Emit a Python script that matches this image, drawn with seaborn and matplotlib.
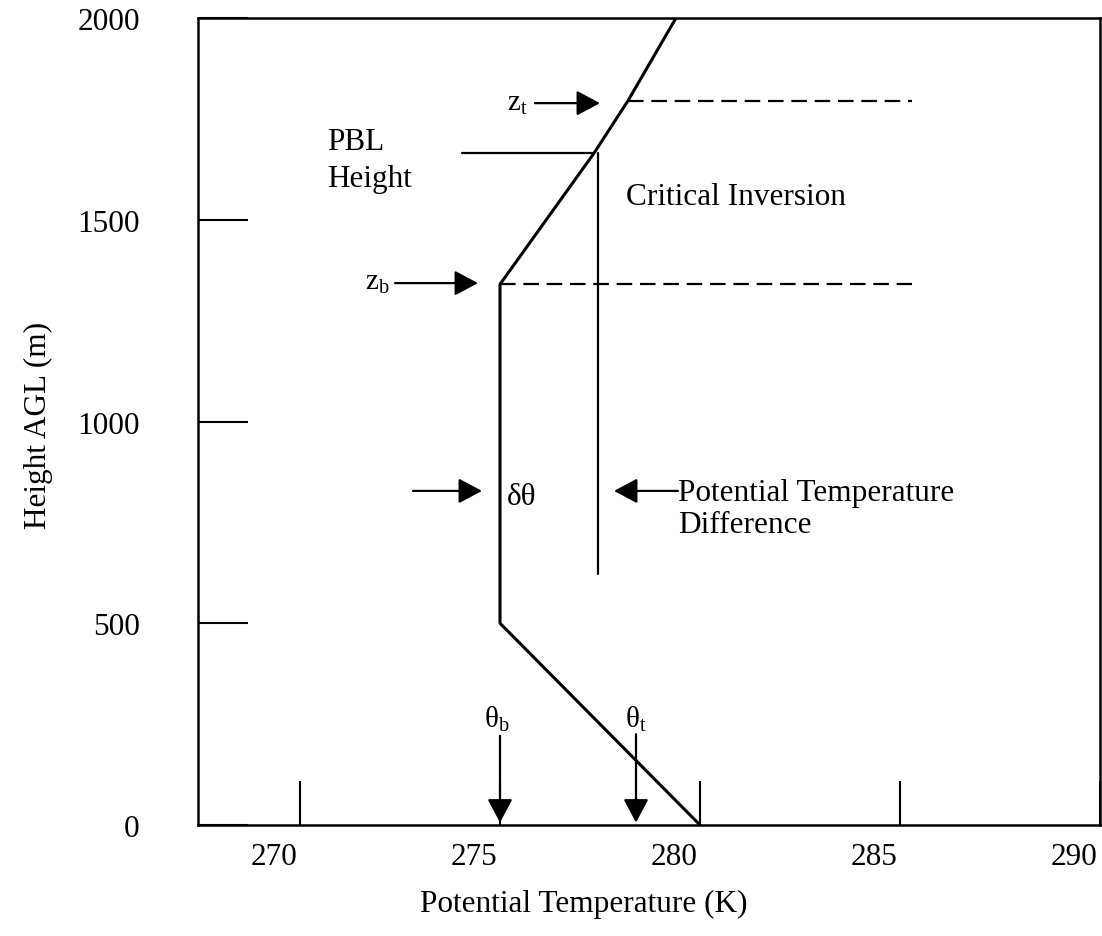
import matplotlib
matplotlib.use("Agg")
import matplotlib.pyplot as plt
import matplotlib.transforms as mtransforms
import numpy as np
import pandas as pd
import seaborn as sns

# Idealised potential-temperature profile of the boundary layer
theta_profile = [280.0, 275.0, 275.0, 277.35, 278.2, 279.4]
height_profile = [0, 500, 1340, 1665, 1795, 2000]

# Key levels and temperatures
z_b = 1340          # base of the critical inversion (m)
z_t = 1795          # top of the critical inversion (m)
pbl_height = 1665   # PBL height (m)
theta_b = 275.0     # potential temperature at inversion base (K)
theta_t = 278.4     # potential temperature at inversion top (K)
dashed_end = 285.3  # right end of the level markers (K)

x_ticks = [270, 275, 280, 285, 290]
y_ticks = [0, 500, 1000, 1500, 2000]

sns.set_theme(style="white")
plt.rcParams["font.family"] = ["Liberation Serif", "DejaVu Serif"]
plt.rcParams["mathtext.fontset"] = "custom"
plt.rcParams["mathtext.rm"] = "Liberation Serif"
plt.rcParams["mathtext.it"] = "Liberation Serif:italic"
plt.rcParams["text.color"] = "black"
plt.rcParams["axes.labelcolor"] = "black"
plt.rcParams["xtick.color"] = "black"
plt.rcParams["ytick.color"] = "black"

FS = 22.5
LW = 1.6

fig = plt.figure(figsize=(11.02, 9.37), dpi=100)
ax = fig.add_axes([198 / 1102, 1 - 826 / 937, 902 / 1102, 807 / 937])

df = pd.DataFrame({"theta": theta_profile, "z": height_profile})
sns.lineplot(data=df, x="theta", y="z", sort=False, estimator=None,
             color="black", linewidth=2.2, ax=ax)

# Inversion base and top markers
ax.plot([theta_profile[2], dashed_end], [z_b, z_b], color="black",
        linewidth=LW, dashes=(7, 3.5))
ax.plot([theta_profile[4], dashed_end], [z_t, z_t], color="black",
        linewidth=LW, dashes=(7, 3.5))

# PBL height marker and the vertical drop line
ax.plot([274.05, theta_profile[3]], [pbl_height, pbl_height],
        color="black", linewidth=LW)
ax.plot([277.45, 277.45], [pbl_height, 622], color="black", linewidth=LW)

ax.set_xlim(267.45, 290)
ax.set_ylim(0, 2000)

arrow_kw = dict(arrowstyle="-|>,head_length=0.6,head_width=0.32",
                mutation_scale=24, color="black", lw=LW,
                shrinkA=0, shrinkB=0)

def arrow(x0, y0, x1, y1):
    ax.annotate("", xy=(x1, y1), xytext=(x0, y0), arrowprops=arrow_kw)

arrow(275.875, 1789, 277.5, 1789)    # z_t
arrow(272.375, 1343, 274.45, 1343)   # z_b
arrow(272.825, 828, 274.55, 828)     # delta theta
arrow(279.45, 828, 277.85, 828)      # difference
arrow(theta_b, 221, theta_b, 6)      # theta_b
arrow(theta_t, 225, theta_t, 6)      # theta_t

ax.text(275.43, 1772, "z$_{\\mathrm{t}}$", fontsize=21, ha="center",
        va="baseline")
ax.text(271.93, 1328, "z$_{\\mathrm{b}}$", fontsize=21, ha="center",
        va="baseline")
ax.text(270.68, 1675, "PBL", fontsize=FS, ha="left", va="baseline")
ax.text(270.68, 1584, "Height", fontsize=FS, ha="left", va="baseline")
ax.text(278.15, 1539, "Critical Inversion", fontsize=FS, ha="left",
        va="baseline")
ax.text(275.18, 796, "δθ", fontsize=FS, ha="left", va="baseline")
ax.text(279.45, 805, "Potential Temperature", fontsize=FS, ha="left",
        va="baseline")
ax.text(279.45, 725, "Difference", fontsize=FS, ha="left", va="baseline")
ax.text(274.91, 243, "θ$_{\\mathrm{b}}$", fontsize=21, ha="center",
        va="baseline")
ax.text(278.39, 243, "θ$_{\\mathrm{t}}$", fontsize=21, ha="center",
        va="baseline")

# Axes frame and inward ticks
for side in ["left", "right", "top", "bottom"]:
    ax.spines[side].set_visible(True)
    ax.spines[side].set_color("black")
    ax.spines[side].set_linewidth(1.8)

ax.set_xticks(x_ticks)
ax.set_xticklabels([str(v) for v in x_ticks], fontsize=FS)
ax.set_yticks(y_ticks)
ax.set_yticklabels([str(v) for v in y_ticks], fontsize=FS)
ax.tick_params(axis="x", direction="in", length=31.5, width=1.5,
               color="black", labelcolor="black", pad=12, bottom=True)
ax.tick_params(axis="y", direction="in", length=36, width=1.5,
               color="black", labelcolor="black", pad=42, left=True)

shift = mtransforms.ScaledTranslation(-26 / 100, 0, fig.dpi_scale_trans)
for lab in ax.get_xticklabels():
    lab.set_transform(lab.get_transform() + shift)

ax.set_xlabel("")
ax.set_ylabel("")
fig.text(584 / 1102, 1 - 912 / 937, "Potential Temperature (K)",
         fontsize=FS, ha="center", va="baseline")
fig.text(38 / 1102, 1 - 425 / 937, "Height AGL (m)", fontsize=FS,
         ha="center", va="center", rotation=90)

fig.savefig("out.png", dpi=100, facecolor="white")
